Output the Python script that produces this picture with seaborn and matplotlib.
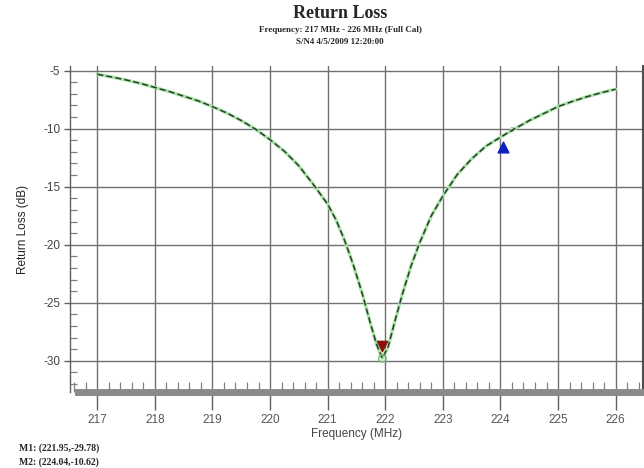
import matplotlib
matplotlib.use("Agg")
import matplotlib.pyplot as plt
import matplotlib.transforms as mtransforms
from matplotlib.ticker import MultipleLocator
import pandas as pd
import seaborn as sns

# ---------------------------------------------------------------------------
# Data
# ---------------------------------------------------------------------------
freq_mhz = [217.0, 217.25, 217.5, 217.75, 218.0, 218.25, 218.5, 218.75, 219.0,
            219.25, 219.5, 219.75, 220.0, 220.25, 220.5, 220.75, 221.0, 221.15,
            221.3, 221.45, 221.6, 221.75, 221.85, 221.95, 222.05, 222.15, 222.3,
            222.45, 222.6, 222.8, 223.0, 223.25, 223.5, 223.75, 224.04, 224.25,
            224.5, 224.75, 225.0, 225.25, 225.5, 225.75, 226.0]
return_loss_db = [-5.31, -5.55, -5.8, -6.1, -6.45, -6.8, -7.2, -7.6, -8.1,
                  -8.65, -9.3, -10.05, -10.95, -11.95, -13.2, -14.8, -16.5, -17.9,
                  -19.7, -21.8, -24.2, -26.9, -28.6, -29.78, -28.8, -26.9, -24.2,
                  -21.8, -19.8, -17.5, -15.8, -13.95, -12.6, -11.5, -10.62, -10.0,
                  -9.3, -8.7, -8.1, -7.65, -7.25, -6.9, -6.6]

x_ticks = [217, 218, 219, 220, 221, 222, 223, 224, 225, 226]
y_ticks = [-5, -10, -15, -20, -25, -30]

m1_freq, m1_val = 221.95, -29.78
m2_freq, m2_val = 224.04, -10.62

title = "Return Loss"
subtitle = "Frequency: 217 MHz - 226 MHz (Full Cal)\nS/N4 4/5/2009 12:20:00"
marker_text = [f"M1: ({m1_freq:.2f},{m1_val:.2f})", f"M2: ({m2_freq:.2f},{m2_val:.2f})"]

df = pd.DataFrame({"freq": freq_mhz, "rl": return_loss_db})

# ---------------------------------------------------------------------------
# Figure
# ---------------------------------------------------------------------------
sns.set_style("white")
plt.rcParams["font.family"] = ["Liberation Sans", "DejaVu Sans"]
plt.rcParams["axes.unicode_minus"] = False

fig = plt.figure(figsize=(6.44, 4.68), dpi=100)
ax = fig.add_axes([0.109, 0.162, 0.889, 0.697])

# light green under-trace + dark dashed trace on top
sns.lineplot(data=df, x="freq", y="rl", ax=ax, color="#a8e4a8", linewidth=2.4, zorder=3)
sns.lineplot(data=df, x="freq", y="rl", ax=ax, color="#2b3d2b", linewidth=1.1,
             linestyle=(0, (4, 2)), zorder=4)

ax.set_xlim(216.53, 226.47)
ax.set_ylim(-32.7, -4.6)
ax.set_xticks(x_ticks)
ax.set_yticks(y_ticks)
ax.xaxis.set_minor_locator(MultipleLocator(0.2))
ax.yaxis.set_minor_locator(MultipleLocator(1))

ax.grid(True, which="major", color="#707070", linewidth=1.0)
ax.set_axisbelow(True)

ax.tick_params(axis="x", which="major", bottom=True, direction="out", length=13, width=1,
               color="#606060", labelsize=8.5, labelcolor="#555555", pad=3)
ax.tick_params(axis="x", which="minor", bottom=True, direction="in", length=7, width=0.9,
               color="#808080")
ax.tick_params(axis="y", which="major", left=True, direction="out", length=4, width=1,
               color="#606060", labelsize=8.5, labelcolor="#444444", pad=3)
ax.tick_params(axis="y", which="minor", left=True, direction="in", length=5, width=0.9,
               color="#808080")

ax.spines["top"].set_visible(False)
ax.spines["left"].set_color("#606060")
ax.spines["left"].set_linewidth(1)
ax.spines["right"].set_color("#505050")
ax.spines["right"].set_linewidth(1.5)
ax.spines["bottom"].set_color("#8a8a8a")
ax.spines["bottom"].set_linewidth(5)
ax.spines["bottom"].set_bounds(216.67, 226.47)

ax.set_xlabel("Frequency (MHz)", fontsize=8.5, color="#444444", labelpad=1)
ax.set_ylabel("Return Loss (dB)", fontsize=8.5, color="#222222", labelpad=10)

# markers
up = mtransforms.offset_copy(ax.transData, fig=fig, x=0, y=12, units="dots")
down = mtransforms.offset_copy(ax.transData, fig=fig, x=0, y=-11, units="dots")
ax.scatter([m1_freq], [m1_val], s=28, facecolors="none", edgecolors="#6fbf6f",
           linewidths=1, zorder=5)
ax.scatter([m1_freq], [m1_val], s=55, marker="v", color="#8b1010", transform=up, zorder=6)
ax.scatter([m2_freq], [m2_val], s=60, marker="^", color="#1020c0", transform=down, zorder=6)
ax.annotate("2", (m2_freq, m2_val), xytext=(5, 3), textcoords="offset points",
            fontsize=5, color="#7090d0")

# titles and marker readouts
serif = ["Liberation Serif", "DejaVu Serif"]
fig.text(0.528, 0.972, title, ha="center", va="center", fontsize=13,
         fontweight="bold", family=serif)
fig.text(0.528, 0.923, subtitle, ha="center", va="center", fontsize=6.5,
         fontweight="bold", family=serif, linespacing=1.75)
fig.text(0.03, 0.028, "\n".join(marker_text), ha="left", va="center", fontsize=7,
         fontweight="bold", family=serif, linespacing=1.6)

plt.savefig("out.png", dpi=100)
